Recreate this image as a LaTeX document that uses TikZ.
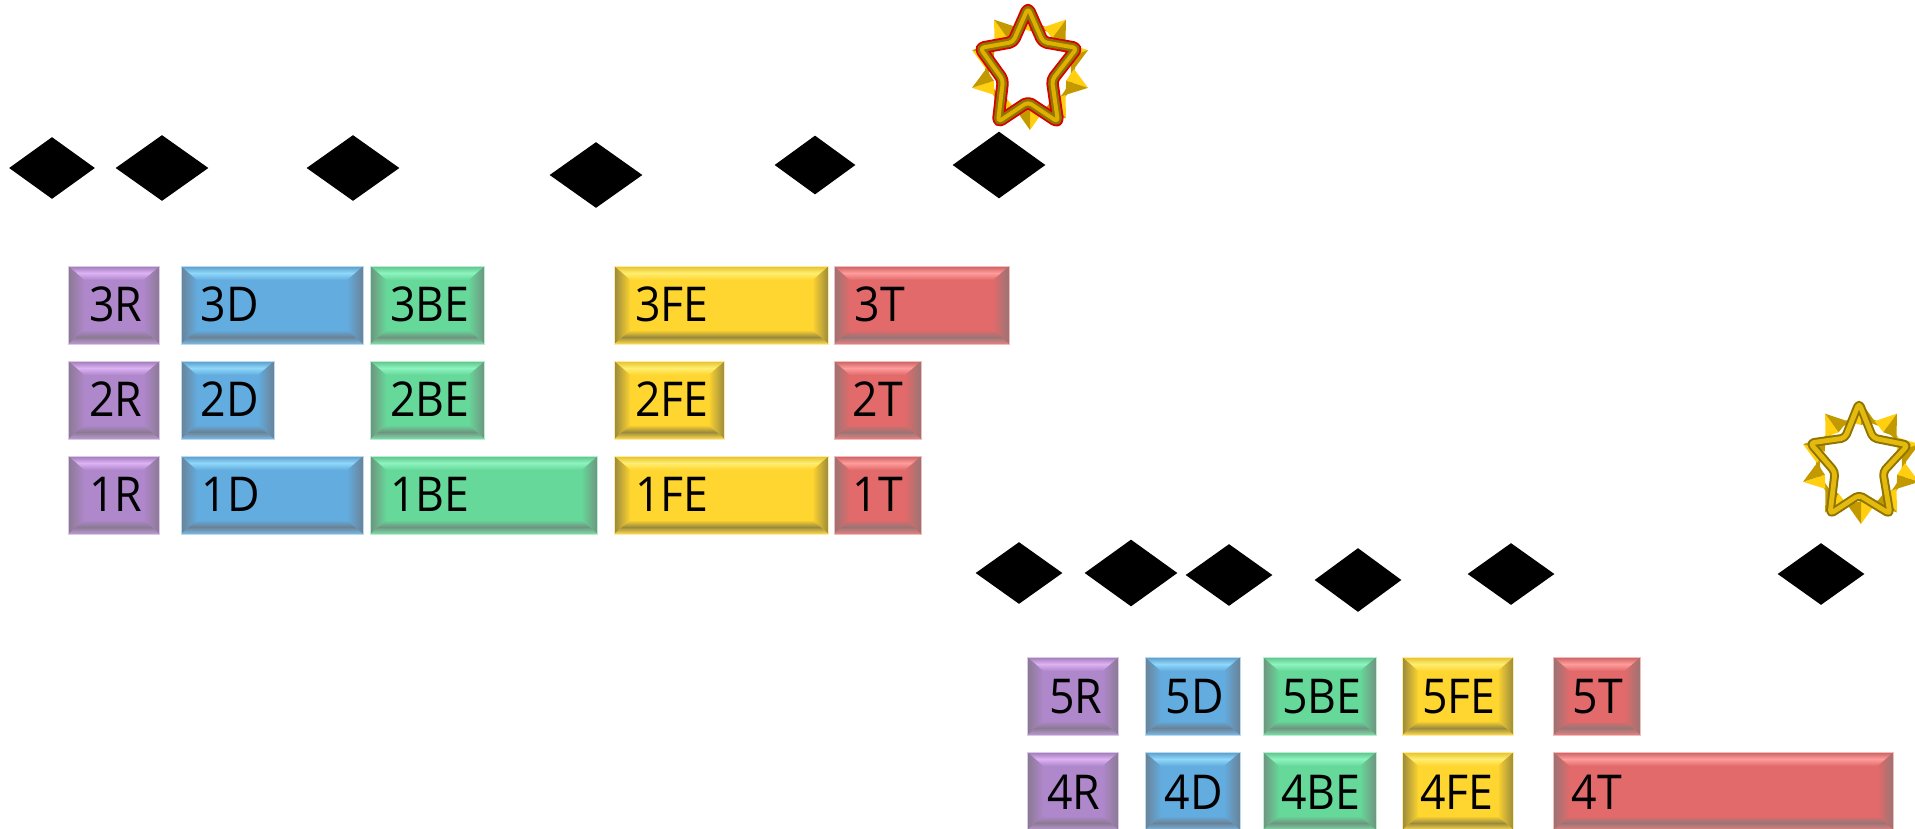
\documentclass[tikz,border=0pt]{standalone}
\usepackage{fontspec}
\setmainfont{Open Sans}[FakeStretch=0.93]
\usetikzlibrary{shapes.geometric}
\definecolor{purplebar}{HTML}{AF87CB}
\definecolor{purplelight}{HTML}{DDB2F4}
\definecolor{purpledark}{HTML}{8B7A93}
\definecolor{bluebar}{HTML}{63ACDF}
\definecolor{bluelight}{HTML}{8FD8FA}
\definecolor{bluedark}{HTML}{6A8296}
\definecolor{greenbar}{HTML}{66D899}
\definecolor{greenlight}{HTML}{8DF4BF}
\definecolor{greendark}{HTML}{6F9480}
\definecolor{yellowbar}{HTML}{FFD530}
\definecolor{yellowlight}{HTML}{FFEE70}
\definecolor{yellowdark}{HTML}{9A8A3C}
\definecolor{redbar}{HTML}{E26A6A}
\definecolor{redlight}{HTML}{FF9C9C}
\definecolor{reddark}{HTML}{9A7474}
\definecolor{spikelight}{HTML}{FFCF10}
\definecolor{spikedark}{HTML}{C29A00}
\definecolor{tubedark}{HTML}{8F7400}
\definecolor{tubegold}{HTML}{E0B000}
\tikzset{
  mark diamond/.style={diamond, inner sep=0pt, fill=black, draw=none, minimum width=#1},
  barbox/.style n args={3}{rectangle, anchor=north west, inner sep=0pt, minimum height=39pt,
    draw=#1!45!white, line width=0.5pt, fill=#1, path picture={
      \coordinate (nw) at (path picture bounding box.north west);
      \coordinate (ne) at (path picture bounding box.north east);
      \coordinate (sw) at (path picture bounding box.south west);
      \coordinate (se) at (path picture bounding box.south east);
      \coordinate (inw) at ([xshift=8pt,yshift=-7pt]nw);
      \coordinate (ine) at ([xshift=-8pt,yshift=-7pt]ne);
      \coordinate (isw) at ([xshift=8pt,yshift=7pt]sw);
      \coordinate (ise) at ([xshift=-8pt,yshift=7pt]se);
      \shade[left color=#3, right color=#1] (nw) -- (inw) -- (isw) -- (sw) -- cycle;
      \shade[left color=#1, right color=#3] (ne) -- (ine) -- (ise) -- (se) -- cycle;
      \shade[top color=#1!90!black, bottom color=#1, middle color=#2] (nw) -- (ne) -- (ine) -- (inw) -- cycle;
      \shade[top color=#1, bottom color=#1!85!white, middle color=#3] (sw) -- (se) -- (ise) -- (isw) -- cycle;
    }},
  rbox/.style={barbox={purplebar}{purplelight}{purpledark}},
  dbox/.style={barbox={bluebar}{bluelight}{bluedark}},
  bebox/.style={barbox={greenbar}{greenlight}{greendark}},
  febox/.style={barbox={yellowbar}{yellowlight}{yellowdark}},
  tbox/.style={barbox={redbar}{redlight}{reddark}},
  barlabel/.style={inner sep=0pt, text=black, font=\fontsize{24}{24}\selectfont},
}
\newcommand{\spikering}[2]{%
  \begin{scope}[shift={(#1,#2)}]
    \draw[spikedark, line width=2pt] (0,0) circle (43);
    \foreach \ang in {18,54,...,342} {
      \fill[spikelight] (\ang:61) -- (\ang-18:44) -- (\ang:38) -- cycle;
      \fill[spikedark] (\ang:61) -- (\ang+18:44) -- (\ang:38) -- cycle;
    }
  \end{scope}}
\begin{document}
\begin{tikzpicture}[x=0.5pt, y=-0.5pt]
\useasboundingbox (0,0) rectangle (1915,829);
% markers, upper row
\node[mark diamond=43pt, minimum height=31pt] at (52,168) (m1) {};
\node[mark diamond=46.5pt, minimum height=33pt] at (162,168) (m2) {};
\node[mark diamond=46.5pt, minimum height=33pt] at (353,168) (m3) {};
\node[mark diamond=46.5pt, minimum height=33pt] at (596,175) (m4) {};
\node[mark diamond=40.5pt, minimum height=29.5pt] at (815,165) (m5) {};
\node[mark diamond=46.5pt, minimum height=33.5pt] at (999,165) (m6) {};
% markers, lower row
\node[mark diamond=43.5pt, minimum height=31pt] at (1019,573) (m7) {};
\node[mark diamond=46.5pt, minimum height=33.5pt] at (1131,573) (m8) {};
\node[mark diamond=43.5pt, minimum height=31pt] at (1229,575) (m9) {};
\node[mark diamond=43.5pt, minimum height=32pt] at (1358,580) (m10) {};
\node[mark diamond=43.5pt, minimum height=31pt] at (1511,574) (m11) {};
\node[mark diamond=43.5pt, minimum height=31pt] at (1821,574) (m12) {};
% first star
\spikering{1030}{69}
\draw[red!85!black, line width=6.2pt, line join=round, rounded corners=2pt] (1028,8) -- (1043,42) -- (1077,48) -- (1052,80) -- (1058,122) -- (1028,102) -- (998,122) -- (1003,80) -- (980,48) -- (1013,42) -- cycle;
\draw[tubedark, line width=4.4pt, line join=round, rounded corners=2pt] (1028,8) -- (1043,42) -- (1077,48) -- (1052,80) -- (1058,122) -- (1028,102) -- (998,122) -- (1003,80) -- (980,48) -- (1013,42) -- cycle;
\draw[tubegold, line width=2pt, line join=round, rounded corners=2pt] (1028,8) -- (1043,42) -- (1077,48) -- (1052,80) -- (1058,122) -- (1028,102) -- (998,122) -- (1003,80) -- (980,48) -- (1013,42) -- cycle;
% second star
\spikering{1861}{463}
\draw[tubedark, line width=4.4pt, line join=round, rounded corners=2pt] (1859,403) -- (1873,438) -- (1908,445) -- (1883,472) -- (1890,514) -- (1859,495) -- (1830,514) -- (1835,472) -- (1810,443) -- (1845,438) -- cycle;
\draw[spikelight!90!black, line width=2.4pt, line join=round, rounded corners=2pt] (1859,403) -- (1873,438) -- (1908,445) -- (1883,472) -- (1890,514) -- (1859,495) -- (1830,514) -- (1835,472) -- (1810,443) -- (1845,438) -- cycle;
% row 3
\node[rbox, minimum width=45.5pt] at (68,265.5) (b3R) {};
\node[dbox, minimum width=91pt] at (180.5,265.5) (b3D) {};
\node[bebox, minimum width=57pt] at (370,265.5) (b3BE) {};
\node[febox, minimum width=107pt] at (614,265.5) (b3FE) {};
\node[tbox, minimum width=87.5pt] at (833.5,265.5) (b3T) {};
\node[barlabel] at (116,304) (l3R) {3R};
\node[barlabel] at (230,304) (l3D) {3D};
\node[barlabel] at (430,304) (l3BE) {3BE};
\node[barlabel] at (672,304) (l3FE) {3FE};
\node[barlabel] at (880,304) (l3T) {3T};
% row 2
\node[rbox, minimum width=45.5pt] at (68,360.5) (b2R) {};
\node[dbox, minimum width=46.5pt] at (180.5,360.5) (b2D) {};
\node[bebox, minimum width=57pt] at (370,360.5) (b2BE) {};
\node[febox, minimum width=55pt] at (614,360.5) (b2FE) {};
\node[tbox, minimum width=43.5pt] at (833.5,360.5) (b2T) {};
\node[barlabel] at (116,399) (l2R) {2R};
\node[barlabel] at (230,399) (l2D) {2D};
\node[barlabel] at (430,399) (l2BE) {2BE};
\node[barlabel] at (672,399) (l2FE) {2FE};
\node[barlabel] at (878,399) (l2T) {2T};
% row 1
\node[rbox, minimum width=45.5pt] at (68,455.5) (b1R) {};
\node[dbox, minimum width=91pt] at (180.5,455.5) (b1D) {};
\node[bebox, minimum width=113.5pt] at (370,455.5) (b1BE) {};
\node[febox, minimum width=107pt] at (614,455.5) (b1FE) {};
\node[tbox, minimum width=43.5pt] at (833.5,455.5) (b1T) {};
\node[barlabel] at (116,494) (l1R) {1R};
\node[barlabel] at (231,494) (l1D) {1D};
\node[barlabel] at (430,494) (l1BE) {1BE};
\node[barlabel] at (672,494) (l1FE) {1FE};
\node[barlabel] at (878,494) (l1T) {1T};
% row 5
\node[rbox, minimum width=45.5pt] at (1027,656.5) (b5R) {};
\node[dbox, minimum width=47.5pt] at (1144.5,656.5) (b5D) {};
\node[bebox, minimum width=56.5pt] at (1262.5,656.5) (b5BE) {};
\node[febox, minimum width=55.5pt] at (1402,656.5) (b5FE) {};
\node[tbox, minimum width=43.5pt] at (1553,656.5) (b5T) {};
\node[barlabel] at (1076,697) (l5R) {5R};
\node[barlabel] at (1195,697) (l5D) {5D};
\node[barlabel] at (1322,697) (l5BE) {5BE};
\node[barlabel] at (1459,697) (l5FE) {5FE};
\node[barlabel] at (1598,697) (l5T) {5T};
% row 4
\node[rbox, minimum width=45.5pt] at (1027,751.5) (b4R) {};
\node[dbox, minimum width=47.5pt] at (1144.5,751.5) (b4D) {};
\node[bebox, minimum width=56.5pt] at (1262.5,751.5) (b4BE) {};
\node[febox, minimum width=55.5pt] at (1402,751.5) (b4FE) {};
\node[tbox, minimum width=170pt] at (1553,751.5) (b4T) {};
\node[barlabel] at (1074,792) (l4R) {4R};
\node[barlabel] at (1194,792) (l4D) {4D};
\node[barlabel] at (1321,792) (l4BE) {4BE};
\node[barlabel] at (1457,792) (l4FE) {4FE};
\node[barlabel] at (1597,792) (l4T) {4T};
\end{tikzpicture}
\end{document}
